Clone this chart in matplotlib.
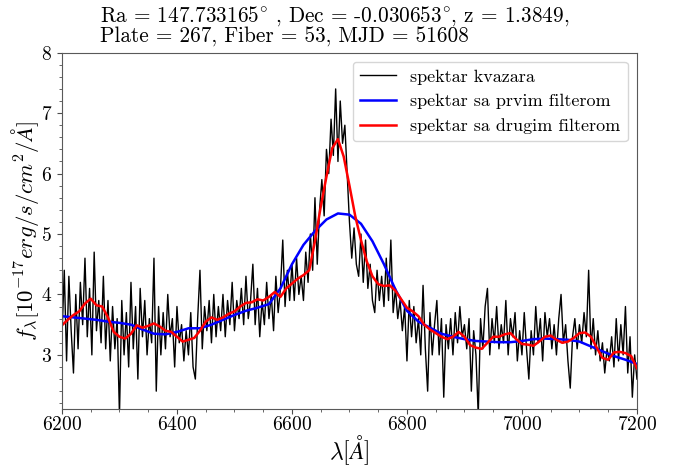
import numpy as np
import matplotlib
matplotlib.use('Agg')
import matplotlib.pyplot as plt
from matplotlib.ticker import AutoMinorLocator

plt.rcParams['font.family'] = 'serif'
plt.rcParams['font.serif'] = ['cmr10']
plt.rcParams['mathtext.fontset'] = 'cm'
plt.rcParams['axes.formatter.use_mathtext'] = True

# quasar spectrum (4 A steps, 6200-7200)
flux = [
    3.3, 4.4, 2.9, 4.3, 3.4, 2.7, 4.0, 3.1, 4.2, 3.5,
    4.6, 3.3, 4.1, 3.0, 4.7, 3.4, 3.9, 3.2, 4.3, 3.1,
    3.9, 2.9, 3.8, 3.1, 3.6, 2.0, 3.9, 3.0, 3.7, 2.8,
    4.2, 3.1, 3.8, 2.6, 4.1, 3.3, 3.9, 3.0, 3.6, 3.2,
    4.6, 2.4, 3.8, 3.0, 3.7, 3.1, 4.0, 3.3, 3.6, 2.8,
    3.8, 3.2, 3.5, 2.9, 3.4, 3.0, 3.7, 2.8, 2.6, 3.6,
    4.4, 3.1, 3.8, 3.4, 3.9, 3.2, 4.0, 3.3, 3.8, 3.4,
    4.0, 3.3, 3.9, 3.5, 4.2, 3.4, 3.9, 3.6, 4.1, 3.5,
    4.3, 3.6, 3.9, 4.5, 3.5, 4.1, 3.3, 3.9, 3.5, 4.2,
    3.6, 4.0, 3.4, 4.3, 3.7, 4.1, 4.9, 3.8, 4.4, 3.9,
    4.5, 3.9, 4.6, 4.0, 4.3, 3.9, 4.7, 4.2, 5.0, 4.4,
    5.6, 4.5, 5.4, 5.9, 5.3, 6.4, 6.0, 6.9, 6.3, 7.4,
    6.2, 7.2, 6.5, 6.8, 6.0, 5.2, 4.6, 5.1, 4.5, 4.3,
    5.0, 4.2, 4.9, 4.1, 4.5, 3.9, 3.7, 4.4, 3.9, 4.3,
    3.8, 4.6, 3.9, 4.9, 3.7, 4.1, 3.6, 3.9, 3.4, 3.8,
    2.9, 3.9, 3.3, 3.8, 3.2, 3.6, 3.0, 4.15, 3.1, 2.4,
    3.7, 3.0, 3.5, 3.9, 3.0, 3.6, 2.3, 3.5, 3.1, 3.6,
    3.0, 3.7, 3.2, 3.8, 3.3, 3.5, 3.1, 3.6, 2.4, 3.4,
    3.0, 2.0, 3.6, 3.1, 3.8, 4.1, 3.0, 3.6, 3.2, 3.8,
    3.1, 3.5, 3.2, 3.9, 3.0, 3.6, 3.3, 3.7, 2.9, 3.4,
    3.0, 3.7, 3.1, 2.6, 3.4, 3.0, 3.8, 3.2, 3.6, 2.9,
    3.7, 3.3, 3.6, 3.1, 3.5, 3.0, 3.6, 4.0, 3.2, 3.5,
    2.9, 2.45, 3.3, 3.6, 3.1, 3.5, 3.2, 3.7, 3.3, 4.4,
    3.1, 3.6, 3.0, 3.4, 2.9, 3.2, 2.7, 3.1, 2.9, 3.3,
    2.8, 3.6, 2.9, 3.5, 3.0, 3.8, 2.7, 3.3, 2.3, 3.0,
    2.6,
]
wave = np.linspace(6200, 7200, len(flux))

# first filter (20 A steps)
flux_f1 = [3.64, 3.62, 3.60, 3.58, 3.55, 3.53, 3.50, 3.42, 3.35, 3.34,
           3.38, 3.44, 3.44, 3.50, 3.58, 3.66, 3.73, 3.78, 3.84, 4.10,
           4.50, 4.82, 5.05, 5.24, 5.34, 5.32, 5.17, 4.88, 4.50, 4.08,
           3.73, 3.55, 3.45, 3.35, 3.30, 3.26, 3.23, 3.22, 3.21, 3.21,
           3.23, 3.26, 3.27, 3.26, 3.25, 3.22, 3.14, 3.06, 2.98, 2.92,
           2.85]
wave_f1 = np.linspace(6200, 7200, len(flux_f1))

# second filter (10 A steps)
flux_f2 = [3.49, 3.58, 3.66, 3.72, 3.85, 3.93, 3.82, 3.80, 3.62, 3.38,
           3.30, 3.27, 3.35, 3.49, 3.45, 3.48, 3.52, 3.47, 3.40, 3.38,
           3.30, 3.22, 3.25, 3.28, 3.40, 3.55, 3.62, 3.58, 3.62, 3.68,
           3.72, 3.80, 3.86, 3.87, 3.92, 3.90, 3.96, 4.04, 3.96, 4.10,
           4.18, 4.26, 4.32, 4.40, 4.88, 5.45, 5.95, 6.42, 6.57, 6.28,
           5.80, 5.30, 4.90, 4.55, 4.30, 4.17, 4.14, 4.15, 4.06, 3.92,
           3.78, 3.72, 3.64, 3.50, 3.42, 3.36, 3.30, 3.26, 3.30, 3.38,
           3.30, 3.16, 3.12, 3.10, 3.20, 3.30, 3.30, 3.34, 3.36, 3.26,
           3.18, 3.17, 3.15, 3.22, 3.30, 3.32, 3.25, 3.20, 3.22, 3.28,
           3.36, 3.37, 3.30, 3.12, 2.95, 2.92, 3.04, 3.05, 3.03, 2.98,
           2.78]
wave_f2 = np.linspace(6200, 7200, len(flux_f2))

title = ('Ra = 147.733165$^{\\circ}$ , Dec = -0.030653$^{\\circ}$, z = 1.3849,\n'
         'Plate = 267, Fiber = 53, MJD = 51608')

fig = plt.figure(figsize=(6.81, 4.67), dpi=100)
ax = fig.add_axes([0.091, 0.1236, 0.8443, 0.7636])

ax.plot(wave, flux, color='black', lw=1.0, label='spektar kvazara')
ax.plot(wave_f1, flux_f1, color='blue', lw=1.8, label='spektar sa prvim filterom')
ax.plot(wave_f2, flux_f2, color='red', lw=1.8, label='spektar sa drugim filterom')

ax.set_xlim(6200, 7200)
ax.set_ylim(2.1, 8)
ax.set_xticks([6200, 6400, 6600, 6800, 7000, 7200])
ax.xaxis.set_minor_locator(AutoMinorLocator())
ax.yaxis.set_minor_locator(AutoMinorLocator())
ax.tick_params(labelsize=14, colors='0.3', labelcolor='black')
ax.tick_params(axis='x', pad=1)
ax.tick_params(which='minor', colors='0.3')
for s in ax.spines.values():
    s.set_color('0.35')
    s.set_linewidth(0.8)

ax.set_xlabel(r'$\lambda[\AA]$', fontsize=17, labelpad=0)
ax.set_ylabel(r'$f_\lambda[10^{-17}erg/s/cm^2/\AA]$', fontsize=16.5, labelpad=0)

ax.legend(loc='upper right', fontsize=13)
fig.text(100 / 681, 1 - 4 / 467, title, ha='left', va='top', fontsize=15.3,
         multialignment='left', linespacing=0.95)

fig.savefig('out.png', dpi=100)
